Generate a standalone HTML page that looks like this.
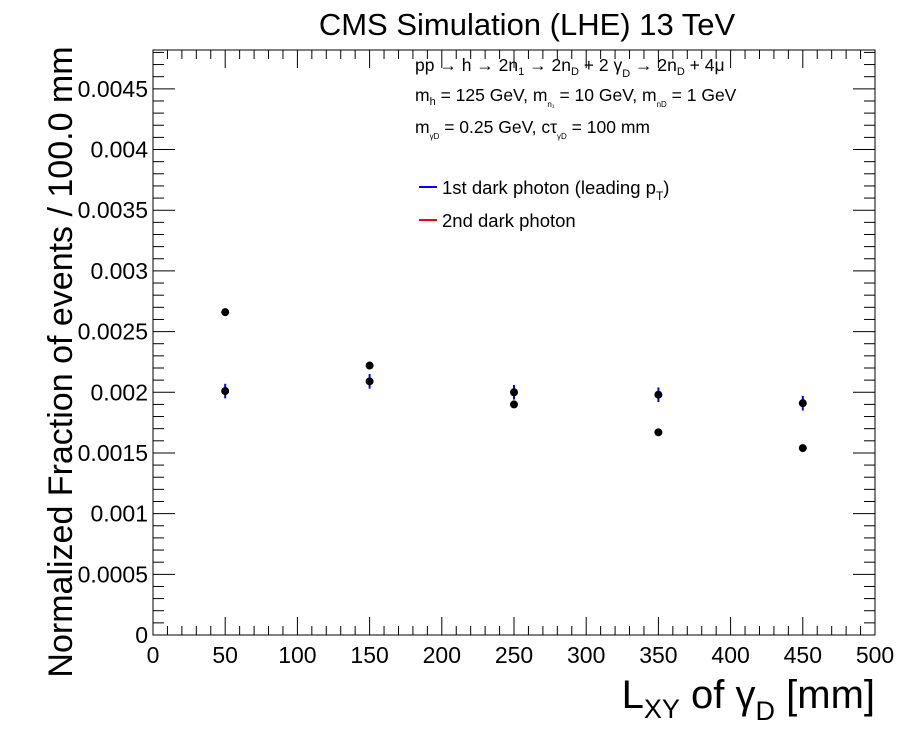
<!DOCTYPE html>
<html><head><meta charset="utf-8"><style>
body{margin:0;background:#fff;}
svg{display:block;font-family:"Liberation Sans",sans-serif;}
</style></head><body>
<svg id="c" width="902" height="730" xmlns="http://www.w3.org/2000/svg">
<rect width="902" height="730" fill="#fff"/>
<text x="527" y="35" font-size="31" text-anchor="middle">CMS Simulation (LHE) 13 TeV</text>
<g id="axes"></g>
<g id="marks"></g>
<g font-size="17.5">
<text x="415" y="71">pp → h → 2n<tspan font-size="11" dy="4">1</tspan><tspan dy="-4"> → 2n</tspan><tspan font-size="11" dy="4">D</tspan><tspan dy="-4"> + 2 γ</tspan><tspan font-size="11" dy="6">D</tspan><tspan dy="-6"> → 2n</tspan><tspan font-size="11" dy="4">D</tspan><tspan dy="-4"> + 4μ</tspan></text>
<text x="415" y="101">m<tspan font-size="11" dy="4">h</tspan><tspan dy="-4"> = 125 GeV, m</tspan><tspan font-size="8" dy="6">n₁</tspan><tspan dy="-6"> = 10 GeV, m</tspan><tspan font-size="8" dy="6">nD</tspan><tspan dy="-6"> = 1 GeV</tspan></text>
<text x="415" y="133">m<tspan font-size="8" dy="6">γD</tspan><tspan dy="-6"> = 0.25 GeV, cτ</tspan><tspan font-size="8" dy="6">γD</tspan><tspan dy="-6"> = 100 mm</tspan></text>
</g>
<g font-size="18.5">
<line x1="419" y1="187" x2="437" y2="187" stroke="#00f" stroke-width="2"/>
<text x="442" y="194">1st dark photon (leading p<tspan font-size="12" dy="6">T</tspan><tspan dy="-6">)</tspan></text>
<line x1="419" y1="220" x2="437" y2="220" stroke="#f00" stroke-width="2"/>
<text x="442" y="227">2nd dark photon</text>
</g>
<text transform="translate(72,362) rotate(-90)" font-size="34" text-anchor="middle">Normalized Fraction of events / 100.0 mm</text>
<text x="875" y="708" font-size="40" text-anchor="end">L<tspan font-size="27" dy="10">XY</tspan><tspan dy="-10"> of γ</tspan><tspan font-size="27" dy="12">D</tspan><tspan dy="-12"> [mm]</tspan></text>
</svg>
<script>
const categories=[50,150,250,350,450];
const firstValues=[0.00201,0.00209,0.00200,0.00198,0.00191];
const firstErrors=[0.00006,0.00006,0.00006,0.00006,0.00006];
const secondValues=[0.00266,0.00222,0.00190,0.00167,0.00154];
const secondErrors=[0.00003,0.00003,0.00003,0.00003,0.00003];
const xTicks=[0,50,100,150,200,250,300,350,400,450,500];
const yTicks=[0,0.0005,0.001,0.0015,0.002,0.0025,0.003,0.0035,0.004,0.0045];
const yTickLabels=["0","0.0005","0.001","0.0015","0.002","0.0025","0.003","0.0035","0.004","0.0045"];
const L=153,R=875,T=50,B=635,XMAX=500,YMAX=0.00482;
const sx=v=>L+v/XMAX*(R-L);
const sy=v=>B-v/YMAX*(B-T);
const NS="http://www.w3.org/2000/svg";
function mk(tag,attrs,parent){const e=document.createElementNS(NS,tag);for(const k in attrs)e.setAttribute(k,attrs[k]);parent.appendChild(e);return e;}
const ax=document.getElementById('axes');
const frame=mk('rect',{x:L,y:T,width:R-L,height:B-T,fill:'none',stroke:'#000','stroke-width':1},ax);


for(let v=0;v<=XMAX;v+=10){const x=sx(v);const big=v%50===0;const len=big?18:9;
 mk('line',{x1:x,y1:B,x2:x,y2:B-len,stroke:'#000'},ax);
 mk('line',{x1:x,y1:T,x2:x,y2:T+len,stroke:'#000'},ax);}
xTicks.forEach(v=>{const t=mk('text',{x:sx(v),y:B+28,'font-size':23,'text-anchor':'middle'},ax);t.textContent=v;
 
 });
for(let i=0;i*0.0001<=YMAX;i++){const y=sy(i*0.0001);const big=i%5===0;const len=big?22:11;
 mk('line',{x1:L,y1:y,x2:L+len,y2:y,stroke:'#000'},ax);
 mk('line',{x1:R,y1:y,x2:R-len,y2:y,stroke:'#000'},ax);}
yTicks.forEach((v,i)=>{const t=mk('text',{x:L-5,y:sy(v)+8,'font-size':23,'text-anchor':'end'},ax);t.textContent=yTickLabels[i];
 
 });
const mg=document.getElementById('marks');
function series(vals,errs,color,name){vals.forEach((v,i)=>{const x=sx(categories[i]);
 const l=mk('line',{x1:x,y1:sy(v+errs[i]),x2:x,y2:sy(v-errs[i]),stroke:color,'stroke-width':2},mg);
 
 
 const c=mk('circle',{cx:x,cy:sy(v),r:4,fill:'#000'},mg);
 
 });}
series(firstValues,firstErrors,'#00f','first-dark-photon');
series(secondValues,secondErrors,'#f00','second-dark-photon');
</script>
</body></html>
